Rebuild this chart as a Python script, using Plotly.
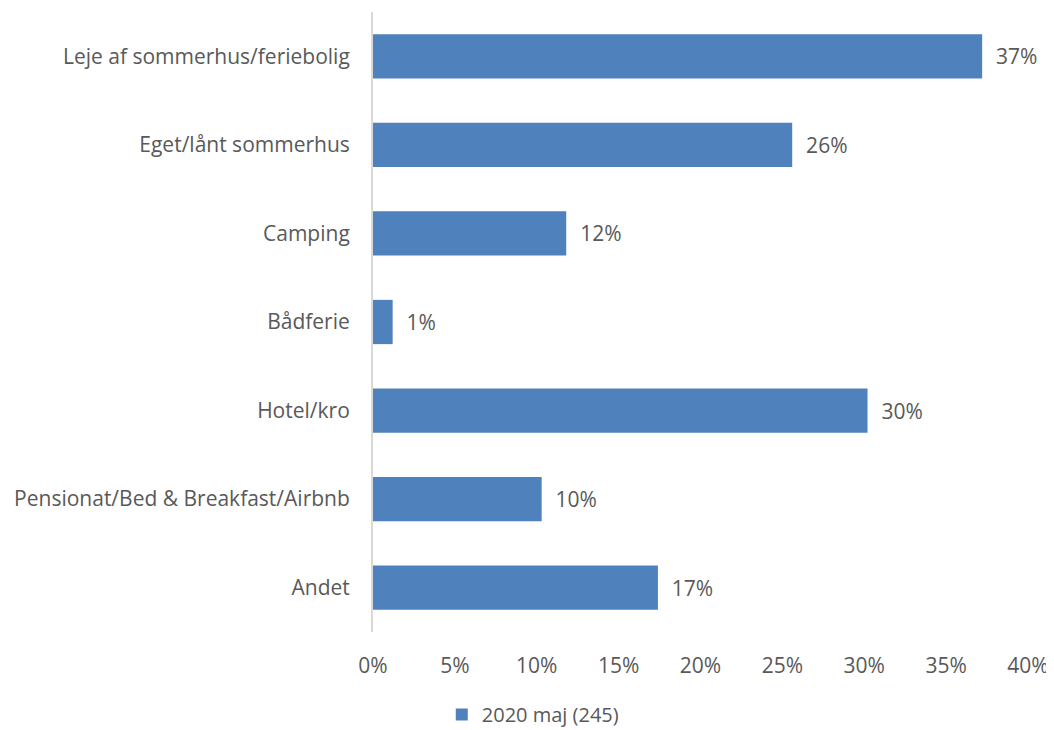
import plotly.graph_objects as go

# Data (top to bottom as in the reference)
categories = [
    "Leje af sommerhus/feriebolig",
    "Eget/lånt sommerhus",
    "Camping",
    "Bådferie",
    "Hotel/kro",
    "Pensionat/Bed & Breakfast/Airbnb",
    "Andet",
]
values = [37.2, 25.6, 11.8, 1.2, 30.2, 10.3, 17.4]
series_name = "2020 maj (245)"
x_ticks = [0, 5, 10, 15, 20, 25, 30, 35, 40]

BAR = "#4F81BD"
TEXT = "#595959"
AXIS = "#D9D9D9"
FONT = "'Open Sans', Lato, sans-serif"
FS = 21

# page has an 8px body margin, so the figure is 8px smaller than the window
fig = go.Figure(go.Bar(
    y=categories,
    x=values,
    orientation="h",
    name=series_name,
    marker=dict(color=BAR, line=dict(width=0)),
    width=0.5,
    texttemplate="  %{x:.0f}%",
    textposition="outside",
    textfont=dict(size=FS, color=TEXT, family=FONT),
    cliponaxis=False,
    showlegend=True,
))

fig.update_layout(
    width=1046, height=722,
    paper_bgcolor="#FFFFFF", plot_bgcolor="#FFFFFF",
    font=dict(family=FONT, size=FS, color=TEXT),
    margin=dict(l=365, r=26, t=4, b=98, autoexpand=False),
    showlegend=True,
    legend=dict(
        orientation="h",
        x=0.105, xanchor="left",
        y=-0.133, yanchor="middle",
        font=dict(size=20, color=TEXT),
    ),
    xaxis=dict(
        range=[0, 40], tickvals=x_ticks,
        ticktext=[f"{v}%" for v in x_ticks],
        showgrid=False, zeroline=False, showline=False,
        ticks="", ticklabelstandoff=19,
        tickfont=dict(size=FS, color=TEXT),
    ),
    yaxis=dict(
        autorange="reversed",
        showgrid=False, zeroline=False,
        showline=True, linecolor=AXIS, linewidth=2,
        ticks="", ticklabelstandoff=17,
        tickfont=dict(size=FS, color=TEXT),
    ),
)

fig.write_html("out.html")
